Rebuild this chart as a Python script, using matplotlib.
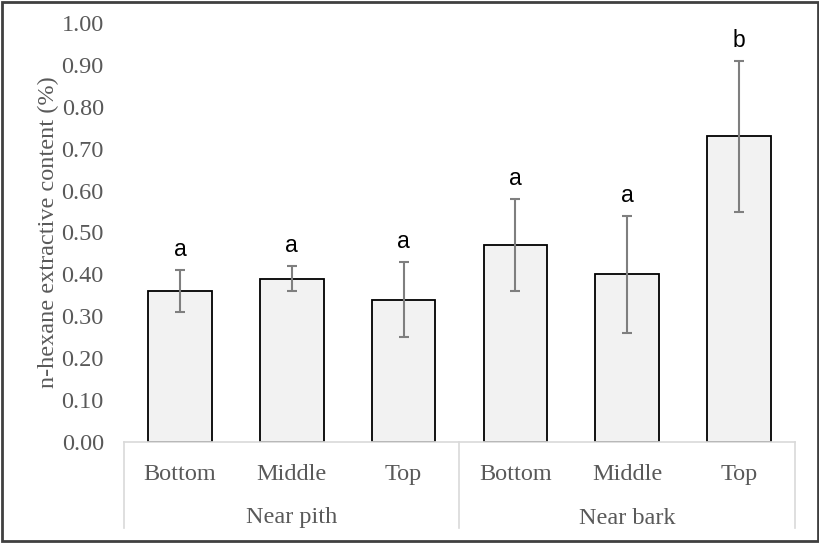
import matplotlib
matplotlib.use("Agg")
import matplotlib.pyplot as plt
from matplotlib.patches import Rectangle

# data
positions = ["Bottom", "Middle", "Top", "Bottom", "Middle", "Top"]
groups = ["Near pith", "Near bark"]
means = [0.36, 0.39, 0.34, 0.47, 0.40, 0.73]
errors = [0.05, 0.03, 0.09, 0.11, 0.14, 0.18]
letters = ["a", "a", "a", "a", "a", "b"]
yticks = [0.0, 0.1, 0.2, 0.3, 0.4, 0.5, 0.6, 0.7, 0.8, 0.9, 1.0]

serif = ["Liberation Serif", "DejaVu Serif"]
sans = ["Liberation Sans", "DejaVu Sans"]
txt_col = "#595959"
fs = 17.5

fig = plt.figure(figsize=(8.2, 5.43), dpi=100)
ax = fig.add_axes([124 / 820, 1 - 442 / 543, (795 - 124) / 820, (442 - 23) / 543])

x = list(range(len(means)))
ax.bar(x, means, width=0.57, color="#f2f2f2", edgecolor="black", linewidth=1.3, zorder=2)
ax.errorbar(x, means, yerr=errors, fmt="none", ecolor="#7f7f7f",
            elinewidth=1.5, capsize=3.8, capthick=1.5, zorder=3)

# significance letters above error bars
for xi, m, e, l in zip(x, means, errors, letters):
    ax.annotate(l, (xi, m + e), xytext=(0, 6.5), textcoords="offset points",
                ha="center", va="bottom", fontsize=16.5, family=sans, color="black")

ax.set_xlim(-0.5, len(means) - 0.5)
ax.set_ylim(0, 1.0)
ax.set_yticks(yticks)
ax.set_yticklabels(["%.2f" % t for t in yticks], family=serif, fontsize=fs, color=txt_col)
ax.tick_params(axis="y", length=0, pad=14.5)
ax.set_xticks(x)
ax.set_xticklabels(positions, family=serif, fontsize=fs, color=txt_col)
ax.tick_params(axis="x", length=0, pad=16)

for s in ["top", "right", "left"]:
    ax.spines[s].set_visible(False)
ax.spines["bottom"].set_color("#d9d9d9")
ax.spines["bottom"].set_linewidth(1.2)

# group separators and labels
trans = ax.get_xaxis_transform()
for sx in [-0.5, 2.5, 5.5]:
    ax.plot([sx, sx], [0, -86 / 419], transform=trans, color="#d9d9d9",
            linewidth=1.2, clip_on=False)
for gi, g in enumerate(groups):
    ax.text(gi * 3 + 1, -76 / 419, g, transform=trans, ha="center", va="center",
            family=serif, fontsize=fs, color=txt_col)

ax.set_ylabel("n-hexane extractive content (%)", family=serif, fontsize=fs,
              color=txt_col, labelpad=2)

fig.patches.append(Rectangle((0.002, 0.003), 0.996, 0.994, transform=fig.transFigure,
                             fill=False, edgecolor="#404040", linewidth=2))

fig.savefig("out.png", dpi=100)
